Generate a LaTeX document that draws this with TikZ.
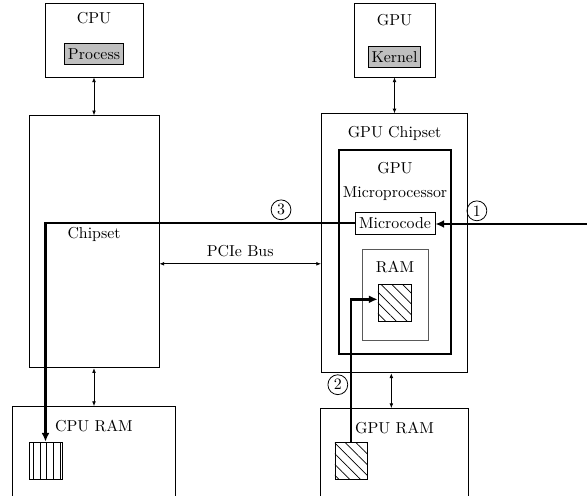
\documentclass[tikz,border=0pt]{standalone}
\usepackage{tikz}
\usetikzlibrary{arrows.meta,positioning,patterns.meta}

\begin{document}
\begin{tikzpicture}[
  x=0.63pt,y=-0.63pt,
  unit/.style={draw,line width=0.5pt,inner sep=0pt},
  caption/.style={inner sep=0pt,align=center},
  chip/.style={draw,line width=0.5pt,fill=black!25,inner sep=2pt,minimum height=13.5pt},
  hatchdiag/.style={draw,line width=0.5pt,pattern={Lines[angle=-45,distance=4.8pt,line width=0.45pt]}},
  hatchvert/.style={draw,line width=0.5pt,pattern={Lines[angle=90,distance=4.2pt,line width=0.45pt]}},
  link/.style={{Latex[length=3pt,width=2.4pt]}-{Latex[length=3pt,width=2.4pt]},line width=0.5pt},
  flow/.style={-{Latex[length=5.5pt,width=5pt]},line width=1.6pt},
  stepmark/.style={circle,draw,line width=0.5pt,inner sep=0pt,minimum size=12.5pt}
]
\useasboundingbox (0,0) rectangle (587,496);
\clip (0,0) rectangle (587,496);

\node[unit,minimum width=61.7pt,minimum height=46.6pt] (cpu) at (94,40) {};
\node[caption,below=6pt of cpu.north] (cputext) {CPU};
\node[chip,below=11.7pt of cputext] (process) {Process};
\node[unit,minimum width=81.9pt,minimum height=158.8pt,below=23.9pt of cpu] (chipset) {};
\node[caption] (chipsettext) at ([yshift=4.5pt]chipset.center) {Chipset};
\node[unit,minimum width=102.7pt,minimum height=75pt,below=23.9pt of chipset] (cpuram) {};
\node[caption,below=8.6pt of cpuram.north] (cpuramtext) {CPU RAM};
\node[hatchvert,minimum width=20.8pt,minimum height=23.3pt] (cpuhatch) at (45.5,460.5) {};

\node[unit,minimum width=51pt,minimum height=46.6pt] (gpu) at (394.5,40) {};
\node[caption,below=7.3pt of gpu.north] (gputext) {GPU};
\node[chip,below=12.3pt of gputext] (kernel) {Kernel};
\node[unit,minimum width=92pt,minimum height=163.2pt,below=22.7pt of gpu] (gpuchip) {};
\node[caption,below=7.9pt of gpuchip.north] (gpuchiptext) {GPU Chipset};
\node[draw,line width=1.6pt,minimum width=70.8pt,minimum height=128.8pt] (micro) at (395,252) {};
\node[caption,below=8.6pt of micro.north] (microtext) {GPU\\[3pt]Microprocessor};
\node[draw,line width=0.5pt,inner sep=2pt,minimum width=50.4pt,minimum height=13.9pt] (microcode) at (395,223) {Microcode};
\node[unit,draw=black!65,minimum width=41.6pt,minimum height=57.3pt] (ram) at (395,294.5) {};
\node[caption,below=7.9pt of ram.north] (ramtext) {RAM};
\node[hatchdiag,minimum width=20.8pt,minimum height=23.3pt] (ramhatch) at (394.5,302.5) {};
\node[unit,minimum width=93.2pt,minimum height=75pt,below=22pt of gpuchip] (gpuram) {};
\node[caption,below=8.6pt of gpuram.north] (gpuramtext) {GPU RAM};
\node[hatchdiag,minimum width=20.2pt,minimum height=23.3pt] (gpuhatch) at (351,460.5) {};

\draw[link] (cpu) -- (chipset);
\draw[link] (chipset.south) -- (chipset.south |- cpuram.north);
\draw[link] (gpu) -- (gpuchip);
\draw[link] ([xshift=-2pt]gpuchip.south) -- ([xshift=-2pt]gpuchip.south |- gpuram.north);
\draw[link] ([yshift=-13.9pt]chipset.east) -- ([yshift=-13.9pt]chipset.east -| gpuchip.west)
  node[midway,above=1pt] (pcie) {PCIe Bus};

\coordinate (feed) at (595,224);
\draw[flow] (feed) -- (microcode.east |- feed) node[stepmark,pos=0.74,above=1.8pt] (one) {1};
\draw[flow] (microcode.west) -| (cpuhatch.north) node[stepmark,pos=0.119,above=1.8pt] (three) {3};
\draw[flow] (gpuhatch.north) |- ([yshift=2pt]ramhatch.west) node[stepmark,pos=0.2,left=1.8pt] (two) {2};
\end{tikzpicture}
\end{document}
